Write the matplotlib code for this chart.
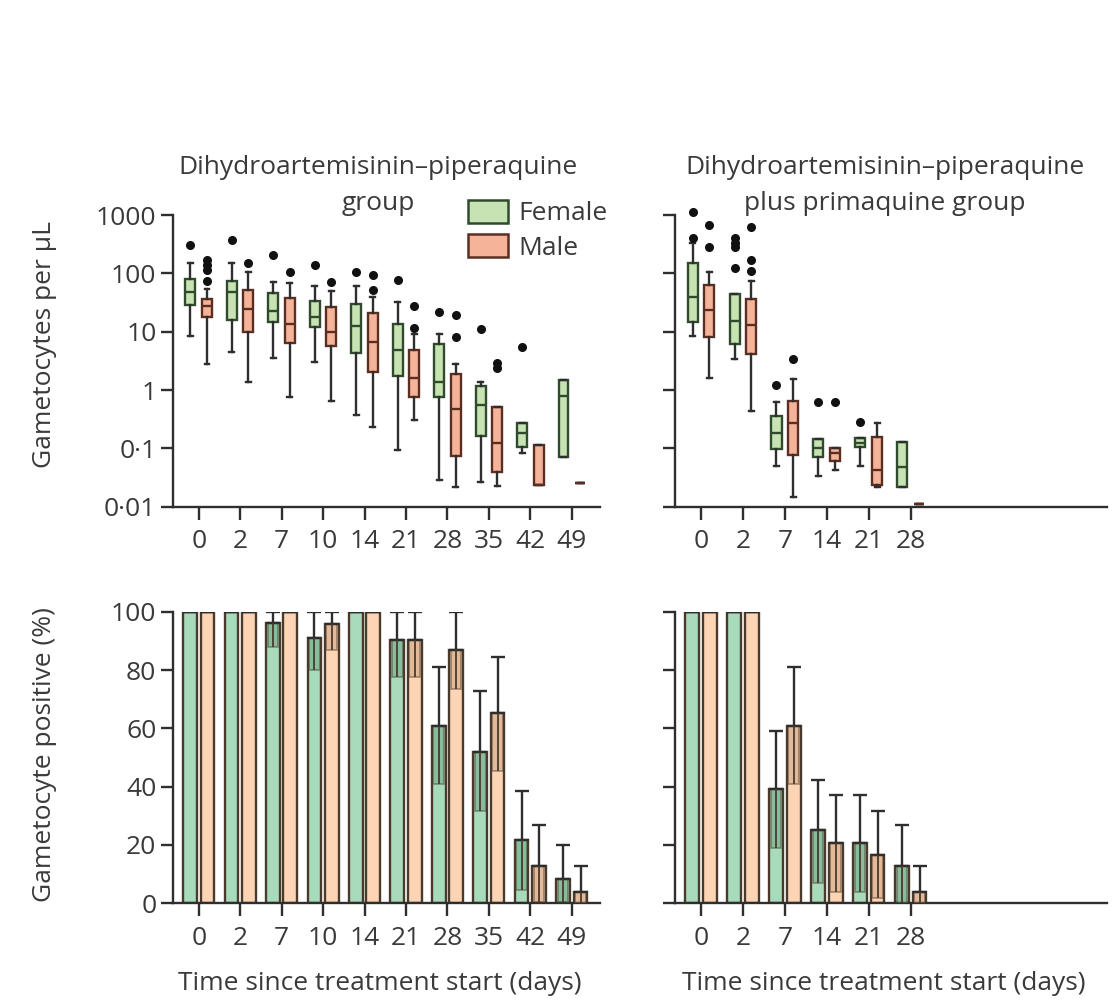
import matplotlib
matplotlib.use("Agg")
import matplotlib.pyplot as plt
from matplotlib.patches import Patch

plt.rcParams["font.family"] = ["Open Sans", "DejaVu Sans"]
TXT = "#3a3a3a"
AX = "#2e2e2e"
FS = 19

# ---- data ----
days_dp = ["0", "2", "7", "10", "14", "21", "28", "35", "42", "49"]
days_pq = ["0", "2", "7", "14", "21", "28"]

# box stats: (whislo, q1, med, q3, whishi, fliers)
box_dp_female = [
    (8.5, 28.6, 48.5, 79, 152, [306]),
    (4.4, 15.8, 48.5, 75, 152, [373]),
    (3.6, 14.8, 22.9, 46.6, 71, [206]),
    (3.06, 12.2, 17.6, 34, 60.7, [139]),
    (0.37, 4.25, 12.7, 29.8, 60.7, [107]),
    (0.094, 1.74, 4.85, 13.5, 32.7, [77]),
    (0.0286, 0.77, 1.39, 6.1, 9.1, [22]),
    (0.027, 0.163, 0.55, 1.17, 1.39, [11]),
    (0.084, 0.107, 0.18, 0.275, 0.275, [5.4]),
    (0.072, 0.072, 0.79, 1.48, 1.48, []),
]
box_dp_male = [
    (2.8, 17.6, 27.6, 36.8, 53, [170, 139, 114, 74]),
    (1.35, 10, 24.2, 51.8, 107, [152]),
    (0.77, 6.5, 13.5, 38.3, 67, [107]),
    (0.65, 5.7, 9.7, 26.8, 50.5, [72]),
    (0.235, 2.0, 6.7, 20.6, 40, [94, 52]),
    (0.31, 0.77, 1.58, 4.85, 9, [27.6, 11.7]),
    (0.022, 0.074, 0.47, 1.88, 2.8, [19.3, 8.0]),
    (0.0226, 0.04, 0.125, 0.52, 0.52, [2.94, 2.35]),
    (0.0235, 0.0235, 0.0235, 0.114, 0.114, []),
    (0.025, 0.025, 0.025, 0.025, 0.025, []),
]
box_pq_female = [
    (8.4, 14.8, 38.8, 148, 327, [1140, 400]),
    (3.36, 6.1, 15.5, 44, 44, [398, 336, 287, 122]),
    (0.0498, 0.096, 0.18, 0.358, 0.63, [1.22]),
    (0.0336, 0.072, 0.1, 0.143, 0.143, [0.63]),
    (0.0498, 0.107, 0.125, 0.148, 0.148, [0.286]),
    (0.022, 0.022, 0.0485, 0.13, 0.13, []),
]
box_pq_male = [
    (1.58, 8.0, 23.5, 63, 107, [674, 279]),
    (0.44, 4.14, 13, 36.3, 75, [631, 169, 110]),
    (0.0148, 0.077, 0.27, 0.65, 1.55, [3.36]),
    (0.0425, 0.061, 0.082, 0.103, 0.103, [0.63]),
    (0.022, 0.0235, 0.0425, 0.158, 0.27, []),
    (0.011, 0.011, 0.011, 0.011, 0.011, []),
]

# % positive: value, lower CI, upper CI
pos_dp_female = [100, 100, 96, 91, 100, 90.3, 60.8, 51.8, 21.7, 8.5]
lo_dp_female = [100, 100, 88, 80, 100, 77.7, 40.8, 31.8, 4.6, 0.5]
hi_dp_female = [100, 100, 100, 100, 100, 100, 80.9, 72.8, 38.5, 20]
pos_dp_male = [100, 100, 100, 95.8, 100, 90.3, 86.9, 65.4, 12.8, 3.9]
lo_dp_male = [100, 100, 100, 87, 100, 77.7, 73.4, 45.5, 0.5, 0]
hi_dp_male = [100, 100, 100, 100, 100, 100, 100, 84.6, 26.7, 12.8]

pos_pq_female = [100, 100, 39.1, 25.1, 20.6, 12.8]
lo_pq_female = [100, 100, 19.1, 7.1, 4, 0]
hi_pq_female = [100, 100, 59, 42.2, 37, 26.7]
pos_pq_male = [100, 100, 60.9, 20.6, 16.5, 3.9]
lo_pq_male = [100, 100, 40.8, 4, 1.7, 0]
hi_pq_male = [100, 100, 80.9, 37, 31.8, 12.8]

BOX_F, BOX_F_EDGE = "#c8e3b3", "#2f4a2c"
BOX_M, BOX_M_EDGE = "#f5b49a", "#5a2f22"
BAR_F, BAR_F_DARK = "#a8dbbb", "#5f9a78"
BAR_M, BAR_M_DARK = "#fdd5b4", "#c39a7c"
BAR_EDGE = "#4a3a2c"

fig = plt.figure(figsize=(11.13, 10), dpi=100)
W, H = 1113, 1000


def make_ax(x0, x1, ytop, ybot):
    return fig.add_axes([x0 / W, 1 - ybot / H, (x1 - x0) / W, (ybot - ytop) / H])


def style(ax, labels):
    for s in ("top", "right"):
        ax.spines[s].set_visible(False)
    for s in ("left", "bottom"):
        ax.spines[s].set_linewidth(1.7)
        ax.spines[s].set_color(AX)
    ax.set_xlim(-0.62, 9.68)
    ax.set_xticks(range(len(labels)))
    ax.set_xticklabels(labels)
    ax.tick_params(axis="both", length=9, width=1.7, color=AX, labelsize=FS,
                   labelcolor=TXT, pad=3)
    ax.tick_params(axis="x", pad=7)


def draw_boxes(ax, fem, mal):
    for stats, off, fc, ec in ((fem, -0.2, BOX_F, BOX_F_EDGE), (mal, 0.2, BOX_M, BOX_M_EDGE)):
        bxs = [dict(whislo=s[0], q1=s[1], med=s[2], q3=s[3], whishi=s[4], fliers=s[5])
               for s in stats]
        pos = [i + off for i in range(len(stats))]
        art = ax.bxp(bxs, positions=pos, widths=0.24, patch_artist=True, manage_ticks=False,
                     boxprops=dict(facecolor=fc, edgecolor=ec, linewidth=1.7),
                     medianprops=dict(color=ec, linewidth=1.7),
                     whiskerprops=dict(color=AX, linewidth=1.7),
                     capprops=dict(color=AX, linewidth=1.7), capwidths=0.12,
                     flierprops=dict(marker="o", markerfacecolor="#111111",
                                     markeredgecolor="#111111", markersize=5.5))
        for fl in art["fliers"]:
            fl.set_clip_on(False)
    ax.set_yscale("log")
    ax.set_ylim(0.01, 1000)
    ax.set_yticks([0.01, 0.1, 1, 10, 100, 1000])
    ax.set_yticklabels(["0·01", "0·1", "1", "10", "100", "1000"])
    ax.minorticks_off()


def draw_bars(ax, fem, flo, fhi, mal, mlo, mhi):
    w = 0.33
    for vals, lo, hi, off, fc, dc in ((fem, flo, fhi, -0.21, BAR_F, BAR_F_DARK),
                                      (mal, mlo, mhi, 0.21, BAR_M, BAR_M_DARK)):
        x = [i + off for i in range(len(vals))]
        ax.bar(x, vals, width=w, color=fc, edgecolor=BAR_EDGE, linewidth=1.7, zorder=2)
        inner = [v - l for v, l in zip(vals, lo)]
        ax.bar(x, inner, bottom=lo, width=w * 0.78, color=dc, alpha=0.45,
               edgecolor=BAR_EDGE, linewidth=1.3, zorder=3)
        up = [h - v for h, v in zip(hi, vals)]
        ax.errorbar(x, vals, yerr=[[0] * len(vals), up], fmt="none", ecolor=AX,
                    elinewidth=1.7, capsize=5, capthick=1.7, zorder=4)
        ax.vlines(x, lo, vals, color=BAR_EDGE, linewidth=1.3, zorder=4)
    ax.set_ylim(0, 100)
    ax.set_yticks([0, 20, 40, 60, 80, 100])


ax1 = make_ax(173, 600, 215, 506.7)
ax2 = make_ax(675, 1107, 215, 506.7)
ax3 = make_ax(173, 600, 611.7, 903.3)
ax4 = make_ax(675, 1107, 611.7, 903.3)

draw_boxes(ax1, box_dp_female, box_dp_male)
draw_boxes(ax2, box_pq_female, box_pq_male)
draw_bars(ax3, pos_dp_female, lo_dp_female, hi_dp_female, pos_dp_male, lo_dp_male, hi_dp_male)
draw_bars(ax4, pos_pq_female, lo_pq_female, hi_pq_female, pos_pq_male, lo_pq_male, hi_pq_male)

for ax, labs in ((ax1, days_dp), (ax2, days_pq), (ax3, days_dp), (ax4, days_pq)):
    style(ax, labs)
ax2.set_yticklabels([])
ax4.set_yticklabels([])


def ftext(x, y, s, **kw):
    fig.text(x / W, 1 - y / H, s, ha="center", va="center", fontsize=FS, color=TXT, **kw)


ftext(378, 167, "Dihydroartemisinin–piperaquine")
ftext(378, 204, "group")
ftext(885, 167, "Dihydroartemisinin–piperaquine")
ftext(885, 204, "plus primaquine group")
ftext(45, 345, "Gametocytes per μL", rotation=90)
ftext(45, 755, "Gametocyte positive (%)", rotation=90)
ftext(380, 983, "Time since treatment start (days)")
ftext(884, 983, "Time since treatment start (days)")

handles = [Patch(facecolor=BOX_F, edgecolor=BOX_F_EDGE, linewidth=1.8, label="Female"),
           Patch(facecolor=BOX_M, edgecolor=BOX_M_EDGE, linewidth=1.8, label="Male")]
fig.legend(handles=handles, loc="upper left", bbox_to_anchor=(468 / W, 1 - 200 / H),
           frameon=False, fontsize=FS, labelcolor=TXT, handlelength=1.5,
           handleheight=0.95, handletextpad=0.4, labelspacing=0.3, borderaxespad=0,
           borderpad=0)

fig.savefig("out.png", dpi=100)
